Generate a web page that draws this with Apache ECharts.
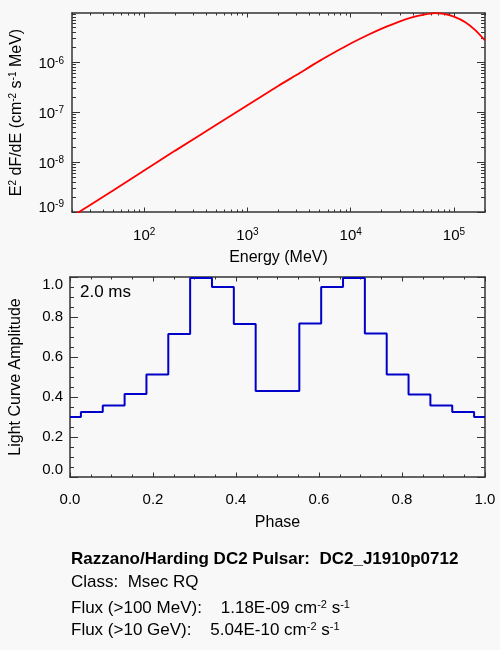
<!doctype html>
<html>
    <head>
        <meta charset="utf-8">
        <title>DC2 Pulsar - ECHARTS</title>
        <style>
            html, body { margin: 0; padding: 0; background: #f8f8f8; }
            #main { width: 500px; height: 650px; }
        </style>
    </head>
    <body>
        <div id="main"></div>
        <script src="https://cdn.jsdelivr.net/npm/echarts@6/dist/echarts.min.js"></script>
        <script>
            // spectrum (MeV, MeV cm^-2 s^-1)
            var energy = [20, 30, 50, 100, 200, 500, 1000, 2000, 3000, 5000, 7000, 10000, 15000,
                20000, 30000, 40000, 50000, 65000, 80000, 100000, 130000, 160000, 200000];
            var e2dfde = [8.13e-10, 1.38e-9, 2.69e-9, 6.76e-9, 1.70e-8, 5.62e-8, 1.38e-7, 3.39e-7,
                5.62e-7, 1.07e-6, 1.59e-6, 2.38e-6, 3.61e-6, 4.74e-6, 6.64e-6, 8.02e-6, 8.95e-6,
                9.73e-6, 9.33e-6, 8.22e-6, 6.31e-6, 4.47e-6, 2.75e-6];

            // light curve, one value per phase bin
            var phase = [0, 0.0526, 0.1053, 0.1579, 0.2105, 0.2632, 0.3158, 0.3684, 0.4211, 0.4737,
                0.5263, 0.5789, 0.6316, 0.6842, 0.7368, 0.7895, 0.8421, 0.8947, 0.9474, 1];
            var amplitude = [0.30, 0.325, 0.357, 0.415, 0.513, 0.715, 0.995, 0.95, 0.765, 0.43,
                0.43, 0.767, 0.95, 0.995, 0.717, 0.513, 0.413, 0.357, 0.325, 0.30];

            var energyTicks = [100, 1000, 10000, 100000];
            var fluxTicks = [1e-9, 1e-8, 1e-7, 1e-6];

            function minorsOf(lo, hi) {
                var out = [];
                for (var d = 1e-10; d < 1e6; d *= 10) {
                    for (var k = 2; k <= 9; k++) {
                        var v = k * d;
                        if (v >= lo && v <= hi) out.push(v);
                    }
                }
                return out;
            }
            var energyMinor = minorsOf(20, 2e5);
            var fluxMinor = minorsOf(1e-9, 9.75e-6);

            var AX = '#333';
            var FONT = 'Liberation Sans';
            var supRich = {
                sup: { fontSize: 10, fontFamily: FONT, color: '#000', padding: [0, 0, 7, 0] }
            };
            var supRich17 = {
                sup: { fontSize: 11, fontFamily: FONT, color: '#000', padding: [0, 0, 8, 0] }
            };

            function pow10(v) {
                return '10{sup|' + Math.round(Math.log10(v)) + '}';
            }

            function logAxis(grid, pos, min, max, ticks, len, opts) {
                var a = {
                    type: 'log', gridIndex: grid, position: pos, min: min, max: max,
                    splitLine: { show: false },
                    axisLine: { show: true, onZero: false, lineStyle: { color: AX, width: 1.5 } },
                    axisTick: { show: true, inside: true, length: len, customValues: ticks,
                        lineStyle: { color: AX } },
                    axisLabel: { show: false }
                };
                return Object.assign(a, opts || {});
            }

            function valAxis(grid, pos, opts) {
                var a = {
                    type: 'value', gridIndex: grid, position: pos, min: 0, max: 1, interval: 0.2,
                    splitLine: { show: false },
                    axisLine: { show: true, onZero: false, lineStyle: { color: AX, width: 1.5 } },
                    axisLabel: { show: false }
                };
                return Object.assign(a, opts || {});
            }

            var chart = echarts.init(document.getElementById('main'));

            chart.setOption({
                backgroundColor: '#f8f8f8',
                animation: false,
                textStyle: { fontFamily: FONT },
                grid: [
                    { left: 70, top: 13, width: 415, height: 199 },
                    { left: 70, top: 277, width: 415, height: 200 }
                ],
                xAxis: [
                    logAxis(0, 'bottom', 20, 2e5, energyTicks, 4.5, {
                        axisLabel: {
                            show: true, customValues: energyTicks, margin: 15, formatter: pow10,
                            fontSize: 15, color: '#000', fontFamily: FONT, rich: supRich
                        },
                        name: 'Energy (MeV)', nameLocation: 'middle', nameGap: 38,
                        nameTextStyle: { fontSize: 16, color: '#000', fontFamily: FONT }
                    }),
                    logAxis(0, 'bottom', 20, 2e5, energyMinor, 2.5, { axisLine: { show: false, onZero: false } }),
                    logAxis(0, 'top', 20, 2e5, energyTicks, 4.5),
                    logAxis(0, 'top', 20, 2e5, energyMinor, 2.5, { axisLine: { show: false, onZero: false } }),
                    valAxis(1, 'bottom', {
                        axisTick: { show: true, inside: true, length: 4.5, lineStyle: { color: AX } },
                        minorTick: { show: true, splitNumber: 4, length: 2.5, lineStyle: { color: AX } },
                        axisLabel: {
                            show: true, margin: 15, fontSize: 15, color: '#000', fontFamily: FONT,
                            formatter: function (v) { return v.toFixed(1); }
                        },
                        name: 'Phase', nameLocation: 'middle', nameGap: 38,
                        nameTextStyle: { fontSize: 16, color: '#000', fontFamily: FONT }
                    }),
                    valAxis(1, 'top', {
                        axisTick: { show: true, inside: true, length: 4.5, lineStyle: { color: AX } },
                        minorTick: { show: true, splitNumber: 4, length: 2.5, lineStyle: { color: AX } }
                    })
                ],
                yAxis: [
                    logAxis(0, 'left', 1e-9, 9.75e-6, fluxTicks, 8, {
                        axisLabel: {
                            show: true, customValues: fluxTicks, margin: 8, formatter: pow10,
                            fontSize: 15, color: '#000', fontFamily: FONT, rich: supRich,
                            padding: [0, 0, -4, 0],
                            verticalAlignMinLabel: 'bottom'
                        },
                        name: 'E{sup|2} dF/dE (cm{sup|-2} s{sup|-1} MeV)', nameLocation: 'middle', nameGap: 47,
                        nameTextStyle: { fontSize: 16, color: '#000', fontFamily: FONT, rich: supRich }
                    }),
                    logAxis(0, 'left', 1e-9, 9.75e-6, fluxMinor, 4, { axisLine: { show: false, onZero: false } }),
                    logAxis(0, 'right', 1e-9, 9.75e-6, fluxTicks, 8),
                    logAxis(0, 'right', 1e-9, 9.75e-6, fluxMinor, 4, { axisLine: { show: false, onZero: false } }),
                    valAxis(1, 'left', {
                        axisTick: { show: true, inside: true, length: 8, lineStyle: { color: AX } },
                        minorTick: { show: true, splitNumber: 4, length: 4, lineStyle: { color: AX } },
                        axisLabel: {
                            show: true, margin: 7, fontSize: 15, color: '#000', fontFamily: FONT,
                            formatter: function (v) { return v.toFixed(1); },
                            verticalAlignMinLabel: 'bottom', verticalAlignMaxLabel: 'top'
                        },
                        name: 'Light Curve Amplitude', nameLocation: 'middle', nameGap: 46,
                        nameTextStyle: { fontSize: 16, color: '#000', fontFamily: FONT }
                    }),
                    valAxis(1, 'right', {
                        axisTick: { show: true, inside: true, length: 8, lineStyle: { color: AX } },
                        minorTick: { show: true, splitNumber: 4, length: 4, lineStyle: { color: AX } }
                    })
                ],
                series: [{
                    type: 'line',
                    xAxisIndex: 0,
                    yAxisIndex: 0,
                    data: energy.map(function (e, i) { return [e, e2dfde[i]]; }),
                    smooth: 0.25,
                    showSymbol: false,
                    lineStyle: { color: '#ff0000', width: 1.8 }
                }, {
                    type: 'line',
                    xAxisIndex: 4,
                    yAxisIndex: 4,
                    step: 'middle',
                    data: phase.map(function (p, i) { return [p, amplitude[i]]; }),
                    showSymbol: false,
                    lineStyle: { color: '#0000c8', width: 2 }
                }],
                graphic: [
                    { type: 'text', left: 80, top: 284,
                        style: { text: '2.0 ms', font: '17px "Liberation Sans"', fill: '#000' } },
                    { type: 'text', left: 71, top: 551,
                        style: { text: 'Razzano/Harding DC2 Pulsar:  DC2_J1910p0712',
                            font: 'bold 17px "Liberation Sans"', fill: '#000' } },
                    { type: 'text', left: 71, top: 574,
                        style: { text: 'Class:  Msec RQ', font: '17px "Liberation Sans"', fill: '#000' } },
                    { type: 'text', left: 71, top: 599,
                        style: { text: 'Flux (>100 MeV):    1.18E-09 cm{sup|-2} s{sup|-1}',
                            font: '17px "Liberation Sans"', fill: '#000', rich: supRich17 } },
                    { type: 'text', left: 71, top: 621,
                        style: { text: 'Flux (>10 GeV):    5.04E-10 cm{sup|-2} s{sup|-1}',
                            font: '17px "Liberation Sans"', fill: '#000', rich: supRich17 } }
                ]
            });

            window.onresize = chart.resize;
        </script>
    </body>
</html>
